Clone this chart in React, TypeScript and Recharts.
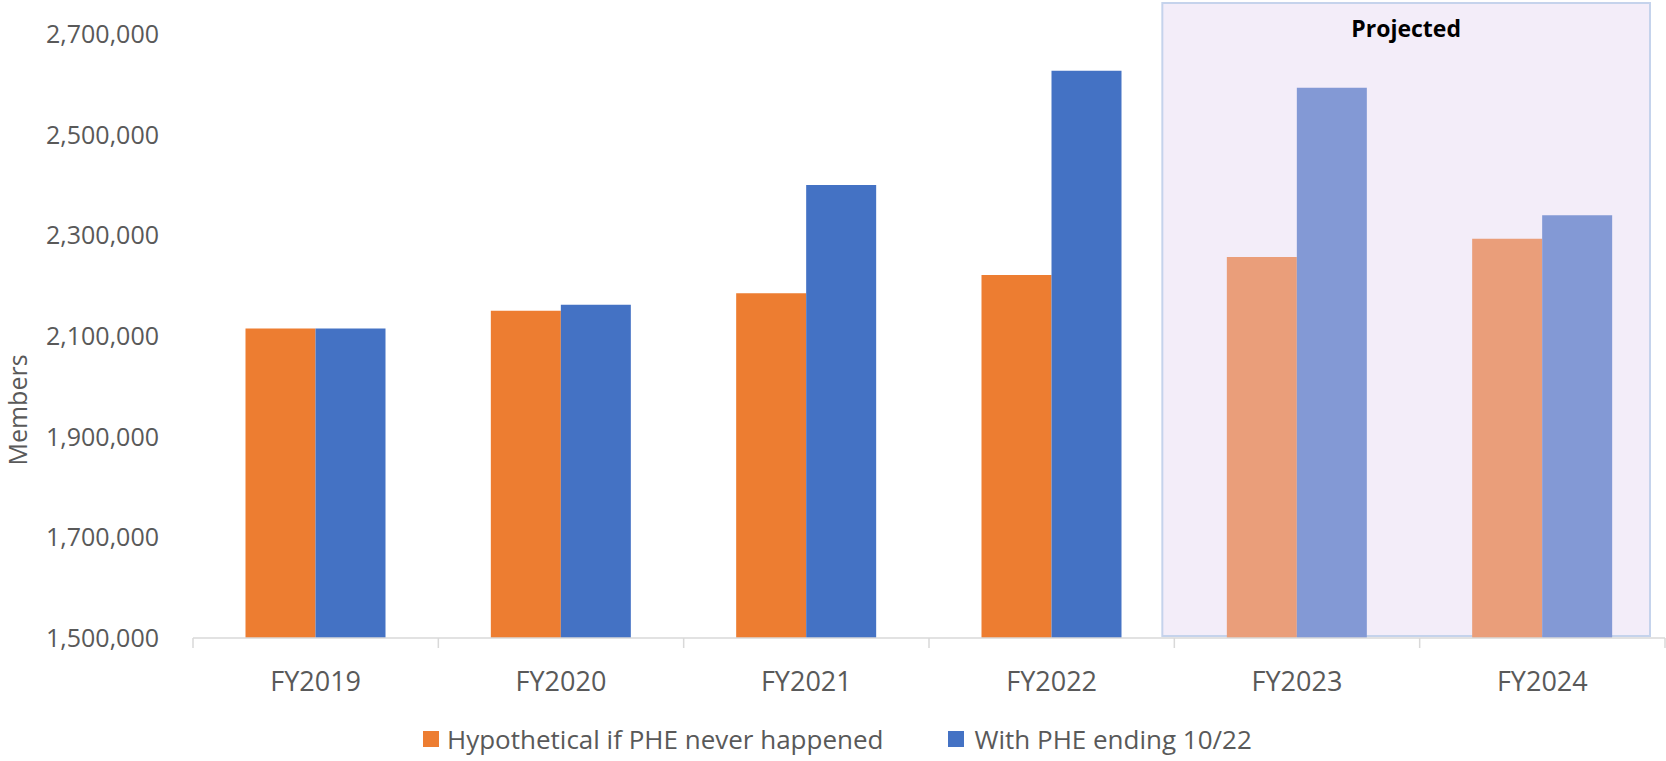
import { BarChart, Bar, XAxis, YAxis, Cell, Legend, ReferenceArea, Label } from 'recharts'

const years = ['FY2019', 'FY2020', 'FY2021', 'FY2022', 'FY2023', 'FY2024']
const hypothetical = [2115000, 2150000, 2185000, 2221000, 2257000, 2293000]
const withPhe = [2115000, 2162000, 2400000, 2627000, 2593000, 2340000]
const projected = [false, false, false, false, true, true]
const yTicks = [1500000, 1700000, 1900000, 2100000, 2300000, 2500000, 2700000]

const seriesNames = ['Hypothetical if PHE never happened', 'With PHE ending 10/22']

const ORANGE = '#ED7D31'
const BLUE = '#4472C4'
const ORANGE_LIGHT = '#EA9E7A'
const BLUE_LIGHT = '#8399D5'
const TEXT = '#595959'
const AXIS = '#D9D9D9'

const W = 1666
const H = 761
const Y_AXIS_W = 193
const RIGHT = 1
const BAND = (W - Y_AXIS_W - RIGHT) / years.length

const data = years.map((year, i) => ({
    year,
    hyp: hypothetical[i],
    phe: withPhe[i],
    projected: projected[i],
}))

const XTick = (props: any) => {
    const { x, y, payload, index } = props
    return (
        <g>
            <line x1={x - BAND / 2} x2={x - BAND / 2} y1={y} y2={y + 10} stroke={AXIS} strokeWidth={1.5} />
            {index === years.length - 1 && (
                <line x1={x + BAND / 2} x2={x + BAND / 2} y1={y} y2={y + 10} stroke={AXIS} strokeWidth={1.5} />
            )}
            <text x={x} y={y + 42} textAnchor="middle" dominantBaseline="central" fill={TEXT} fontSize={27}>
                {payload.value}
            </text>
        </g>
    )
}

const ProjectedBox = (props: any) => {
    const { x, y, width, height } = props
    const top = 3
    const left = x - 12
    const w = width - 3
    const h = y + height - 2 - top
    return (
        <g>
            <rect x={left} y={top} width={w} height={h} fill="#F3EDF9" stroke="#C5D3EC" strokeWidth={2} />
            <text x={left + w / 2} y={28} textAnchor="middle" dominantBaseline="central" fontSize={23} fontWeight={700} fill="#000">
                Projected
            </text>
        </g>
    )
}

const LegendContent = () => (
    <div style={{ display: 'flex', alignItems: 'center', paddingLeft: 423, fontSize: 26, color: TEXT, height: 45 }}>
        <span style={{ width: 16, height: 16, background: ORANGE, display: 'inline-block', marginRight: 8 }} />
        <span style={{ marginRight: 65 }}>{seriesNames[0]}</span>
        <span style={{ width: 16, height: 16, background: BLUE, display: 'inline-block', marginRight: 10 }} />
        <span>{seriesNames[1]}</span>
    </div>
)

export default function App() {
    return (
        <div style={{ position: 'absolute', left: 0, top: 0, width: W, height: H, background: '#fff', fontFamily: '"Open Sans", sans-serif' }}>
            <BarChart
                width={W}
                height={H}
                data={data}
                margin={{ top: 34, right: RIGHT, left: 0, bottom: 0 }}
                barCategoryGap="21.4%"
                barGap={0}
            >
                <ReferenceArea x1="FY2023" x2="FY2024" shape={<ProjectedBox />} ifOverflow="visible" />
                <XAxis
                    dataKey="year"
                    height={78}
                    stroke={AXIS}
                    strokeWidth={1.5}
                    tickLine={false}
                    tickSize={0}
                    tickMargin={0}
                    tick={<XTick />}
                    interval={0}
                />
                <YAxis
                    width={Y_AXIS_W}
                    domain={[1500000, 2700000]}
                    ticks={yTicks}
                    axisLine={false}
                    tickLine={false}
                    tickSize={0}
                    tickMargin={34}
                    tick={{ fill: TEXT, fontSize: 25 }}
                    tickFormatter={(v: number) => v.toLocaleString('en-US')}
                >
                    <Label
                        content={() => (
                            <text x={17} y={410} transform="rotate(-90, 17, 410)" textAnchor="middle" dominantBaseline="central" fill={TEXT} fontSize={25}>
                                Members
                            </text>
                        )}
                    />
                </YAxis>
                <Legend verticalAlign="bottom" height={45} content={<LegendContent />} />
                <Bar dataKey="hyp" name={seriesNames[0]} fill={ORANGE} isAnimationActive={false}>
                    {data.map((d, i) => (
                        <Cell key={i} fill={d.projected ? ORANGE_LIGHT : ORANGE} />
                    ))}
                </Bar>
                <Bar dataKey="phe" name={seriesNames[1]} fill={BLUE} isAnimationActive={false}>
                    {data.map((d, i) => (
                        <Cell key={i} fill={d.projected ? BLUE_LIGHT : BLUE} />
                    ))}
                </Bar>
            </BarChart>
        </div>
    )
}
